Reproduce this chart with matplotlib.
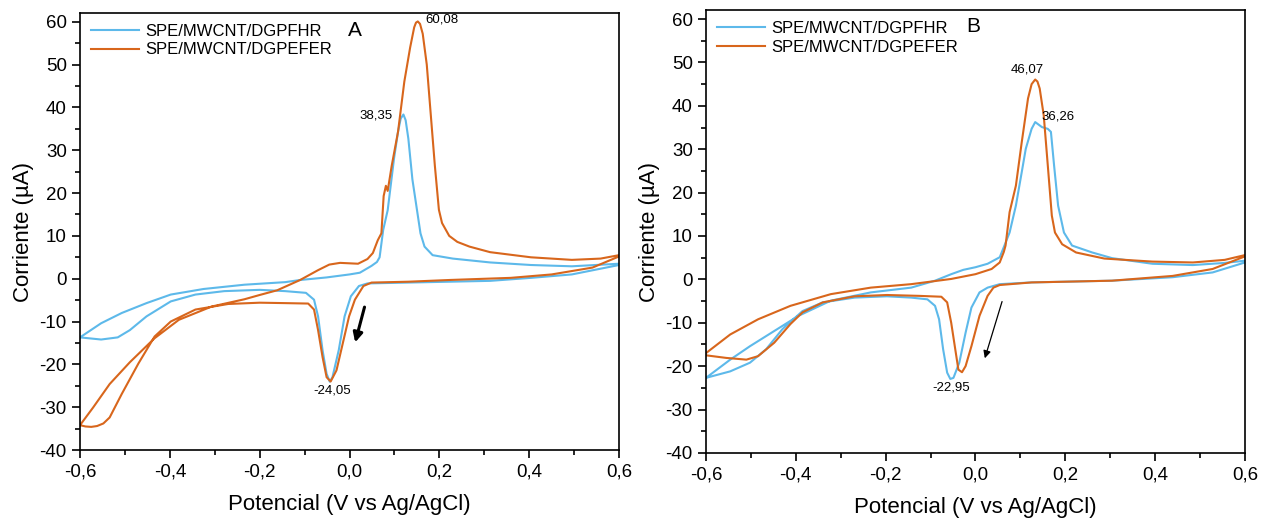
import numpy as np
import matplotlib.pyplot as plt
from matplotlib.ticker import MultipleLocator, FuncFormatter

plt.rcParams['font.family'] = ['Liberation Sans', 'DejaVu Sans']
plt.rcParams['axes.unicode_minus'] = False

BLUE = '#5DB9EA'
ORANGE = '#D8661C'

labels = ['SPE/MWCNT/DGPFHR', 'SPE/MWCNT/DGPEFER']

# ---- Panel A, DGPFHR (closed CV loop) ----
a_fhr_v = [-0.6, -0.553, -0.507, -0.452, -0.398, -0.325, -0.234, -0.143, -0.11, -0.051, 0.0, 0.023,
           0.049, 0.061, 0.067, 0.075, 0.085, 0.099, 0.108, 0.114, 0.120, 0.125, 0.131, 0.140,
           0.149, 0.158, 0.167, 0.185, 0.23, 0.313, 0.404, 0.495, 0.6,
           0.6, 0.495, 0.404, 0.313, 0.13, 0.04, 0.021, 0.003, -0.011, -0.024, -0.038, -0.044,
           -0.051, -0.06, -0.07, -0.079, -0.097, -0.143, -0.2, -0.279, -0.343, -0.398, -0.452,
           -0.489, -0.516, -0.553, -0.6]
a_fhr_i = [-13.7, -10.4, -8.0, -5.7, -3.7, -2.4, -1.4, -0.8, -0.3, 0.3, 1.0, 1.4,
           3.0, 3.9, 5.0, 11.4, 16.0, 28.0, 34.3, 37.4, 38.35, 37.0, 32.7, 23.2,
           16.9, 10.6, 7.5, 5.5, 4.7, 3.8, 3.2, 2.9, 3.5,
           3.2, 1.0, 0.2, -0.5, -0.9, -1.1, -1.7, -4.1, -8.8, -16.7, -23.0, -24.05,
           -22.2, -16.7, -8.8, -4.9, -3.3, -2.9, -2.6, -2.9, -3.7, -5.3, -8.8,
           -12.0, -13.7, -14.2, -13.7]

# ---- Panel A, DGPEFER ----
a_fer_v = [-0.6, -0.571, -0.534, -0.489, -0.434, -0.38, -0.307, -0.234, -0.2, -0.161, -0.11, -0.07,
           -0.045, -0.021, 0.019, 0.04, 0.052, 0.063, 0.071, 0.076, 0.081, 0.085, 0.094, 0.108,
           0.122, 0.135, 0.144, 0.148, 0.152, 0.157, 0.163, 0.172, 0.181, 0.19, 0.199, 0.206,
           0.222, 0.24, 0.267, 0.313, 0.404, 0.495, 0.559, 0.6,
           0.6, 0.541, 0.45, 0.359, 0.222, 0.131, 0.049, 0.031, 0.012, -0.001, -0.015, -0.029,
           -0.042, -0.051, -0.06, -0.07, -0.079, -0.092, -0.143, -0.2, -0.27, -0.343, -0.398,
           -0.434, -0.47, -0.507, -0.534, -0.548, -0.562, -0.575, -0.588, -0.6]
a_fer_i = [-34.2, -30.1, -24.6, -19.5, -13.9, -9.6, -6.5, -4.8, -3.8, -2.7, -0.3, 2.0,
           3.3, 3.7, 3.5, 4.6, 6.0, 9.0, 10.6, 19.3, 21.7, 20.5, 26.4, 34.3,
           46.0, 54.0, 58.7, 59.8, 60.08, 59.5, 57.2, 50.0, 38.2, 26.4, 16.1, 13.0,
           10.0, 8.6, 7.5, 6.2, 5.0, 4.4, 4.7, 5.5,
           5.2, 2.6, 1.0, 0.2, -0.3, -0.7, -0.9, -1.7, -4.9, -8.8, -15.1, -21.4,
           -24.0, -23.0, -18.3, -12.0, -7.2, -5.8, -5.7, -5.6, -5.9, -7.2, -10.0,
           -13.5, -19.8, -26.9, -32.4, -33.8, -34.4, -34.6, -34.5, -34.2]

# ---- Panel B, DGPFHR ----
b_fhr_v = [-0.6, -0.546, -0.502, -0.448, -0.394, -0.322, -0.233, -0.143, -0.09, -0.054, -0.027, 0.0,
           0.027, 0.054, 0.063, 0.076, 0.09, 0.103, 0.112, 0.125, 0.133, 0.148, 0.161, 0.168,
           0.175, 0.184, 0.197, 0.215, 0.26, 0.304, 0.394, 0.484, 0.555, 0.6,
           0.6, 0.528, 0.439, 0.304, 0.125, 0.054, 0.027, 0.009, -0.009, -0.022, -0.036, -0.049,
           -0.056, -0.063, -0.072, -0.081, -0.09, -0.107, -0.143, -0.197, -0.269, -0.34, -0.385,
           -0.43, -0.466, -0.502, -0.546, -0.6]
b_fhr_i = [-22.7, -18.5, -15.4, -11.9, -8.4, -4.9, -3.0, -1.9, -0.3, 1.2, 2.2, 2.8,
           3.6, 5.1, 7.4, 10.8, 17.0, 24.7, 30.1, 34.7, 36.26, 35.1, 34.7, 34.0,
           26.3, 17.0, 10.8, 7.8, 6.2, 4.9, 3.6, 3.3, 3.8, 4.3,
           3.9, 1.6, 0.5, -0.3, -0.7, -1.1, -1.9, -3.0, -6.5, -12.3, -19.2, -22.7,
           -22.95, -21.5, -16.1, -9.2, -6.1, -4.6, -4.2, -3.9, -4.2, -5.3, -7.3,
           -11.5, -16.1, -19.2, -21.2, -22.7]

# ---- Panel B, DGPEFER ----
b_fer_v = [-0.6, -0.546, -0.484, -0.412, -0.322, -0.233, -0.143, -0.054, 0.0, 0.036, 0.054, 0.063,
           0.067, 0.076, 0.09, 0.103, 0.117, 0.125, 0.133, 0.138, 0.143, 0.152, 0.161, 0.17,
           0.177, 0.193, 0.224, 0.287, 0.394, 0.484, 0.555, 0.6,
           0.6, 0.528, 0.439, 0.304, 0.125, 0.054, 0.04, 0.027, 0.009, -0.009, -0.022, -0.03,
           -0.038, -0.045, -0.054, -0.063, -0.076, -0.125, -0.197, -0.269, -0.34, -0.385, -0.412,
           -0.448, -0.484, -0.51, -0.555, -0.6]
b_fer_i = [-17.0, -12.7, -9.2, -6.1, -3.4, -1.9, -1.1, 0.1, 1.2, 2.4, 3.9, 6.3,
           7.8, 15.5, 21.6, 31.6, 41.7, 45.0, 46.07, 45.6, 44.0, 37.8, 26.3, 14.7,
           10.8, 8.1, 6.2, 4.8, 4.1, 3.9, 4.5, 5.6,
           5.3, 2.4, 0.8, -0.3, -0.7, -1.3, -1.9, -3.8, -8.4, -15.4, -20.0, -21.4,
           -20.8, -16.1, -10.0, -5.3, -4.0, -3.8, -3.6, -3.9, -5.3, -7.6, -10.3,
           -14.6, -17.7, -18.5, -18.1, -17.5]

fig = plt.figure(figsize=(12.62, 5.2), dpi=100)
axA = fig.add_axes([0.0634, 0.1346, 0.4271, 0.840])
axB = fig.add_axes([0.5594, 0.1290, 0.4271, 0.851])

comma = FuncFormatter(lambda v, p: f'{v:.1f}'.replace('.', ','))


def style(ax):
    ax.set_xlim(-0.6, 0.6)
    ax.set_ylim(-40, 62)
    ax.xaxis.set_major_locator(MultipleLocator(0.2))
    ax.xaxis.set_minor_locator(MultipleLocator(0.1))
    ax.yaxis.set_major_locator(MultipleLocator(10))
    ax.yaxis.set_minor_locator(MultipleLocator(5))
    ax.xaxis.set_major_formatter(comma)
    ax.tick_params(which='major', direction='out', length=6, width=1.2, labelsize=13.5)
    ax.tick_params(which='minor', direction='out', length=3.5, width=1.2)
    ax.tick_params(top=False, right=False, which='both')
    for s in ax.spines.values():
        s.set_linewidth(1.2)
    ax.set_xlabel('Potencial (V vs Ag/AgCl)', fontsize=16, labelpad=10)
    ax.set_ylabel('Corriente (µA)', fontsize=16, labelpad=4)
    ax.legend(loc='upper left', frameon=False, fontsize=12, handlelength=2.9,
              handletextpad=0.35, labelspacing=0.2, borderaxespad=0.25)


axA.plot(a_fhr_v, a_fhr_i, color=BLUE, lw=1.5, label=labels[0])
axA.plot(a_fer_v, a_fer_i, color=ORANGE, lw=1.5, label=labels[1])
style(axA)
axA.text(0.012, 58, 'A', fontsize=15, ha='center', va='center')
axA.text(0.17, 60.5, '60,08', fontsize=9.5, ha='left', va='center')
axA.text(0.095, 38.2, '38,35', fontsize=9.5, ha='right', va='center')
axA.text(-0.038, -26.2, '-24,05', fontsize=9.5, ha='center', va='center')
axA.annotate('', xy=(0.011, -15.5), xytext=(0.035, -6.0),
             arrowprops=dict(arrowstyle='-|>', color='black', lw=2.2, mutation_scale=14))

axB.plot(b_fhr_v, b_fhr_i, color=BLUE, lw=1.5, label=labels[0])
axB.plot(b_fer_v, b_fer_i, color=ORANGE, lw=1.5, label=labels[1])
style(axB)
axB.text(-0.004, 58.2, 'B', fontsize=15, ha='center', va='center')
axB.text(0.116, 48.3, '46,07', fontsize=9.5, ha='center', va='center')
axB.text(0.147, 37.6, '36,26', fontsize=9.5, ha='left', va='center')
axB.text(-0.054, -25.0, '-22,95', fontsize=9.5, ha='center', va='center')
axB.annotate('', xy=(0.019, -18.8), xytext=(0.061, -4.5),
             arrowprops=dict(arrowstyle='-|>', color='black', lw=0.9, mutation_scale=11))

fig.savefig('out.png', dpi=100)
